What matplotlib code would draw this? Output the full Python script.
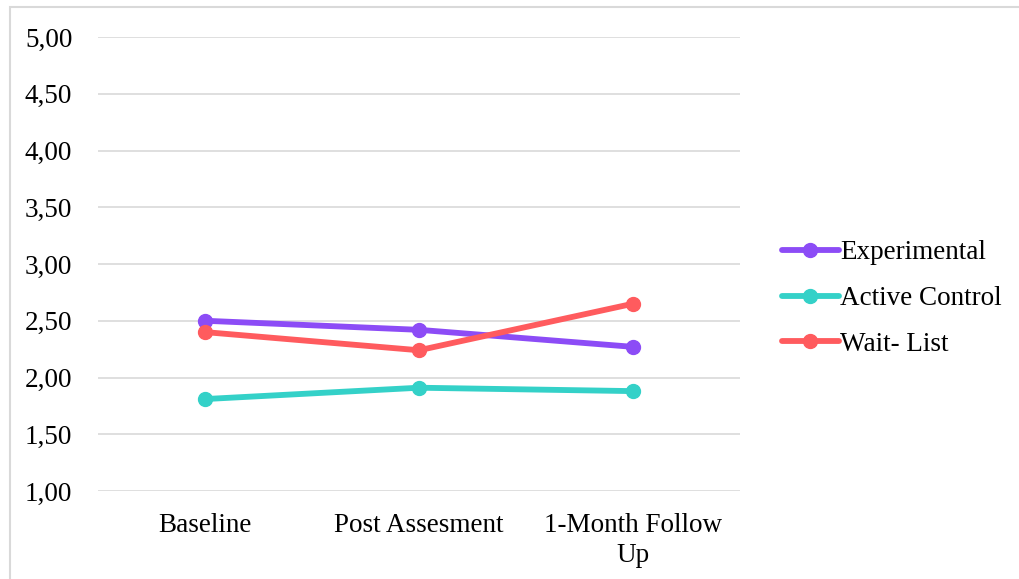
import matplotlib.pyplot as plt
from matplotlib.patches import Rectangle

categories = ["Baseline", "Post Assesment", "1-Month Follow\nUp"]
experimental = [2.50, 2.42, 2.27]
active_control = [1.81, 1.91, 1.88]
wait_list = [2.40, 2.24, 2.65]
series_names = ["Experimental", "Active Control", "Wait- List"]
y_ticks = [1.0, 1.5, 2.0, 2.5, 3.0, 3.5, 4.0, 4.5, 5.0]
y_tick_labels = ["1,00", "1,50", "2,00", "2,50", "3,00", "3,50", "4,00", "4,50", "5,00"]

colors = ["#8C4CF6", "#34D1C8", "#FF5B5E"]

plt.rcParams["font.family"] = ["Liberation Serif", "DejaVu Serif"]
fs = 19.5

fig = plt.figure(figsize=(10.2, 5.79), dpi=100)
ax = fig.add_axes([98 / 1020, 1 - 491 / 579, (740 - 98) / 1020, (491 - 37) / 579])

x = list(range(len(categories)))
for vals, name, c in zip([experimental, active_control, wait_list], series_names, colors):
    ax.plot(x, vals, color=c, lw=4.2, marker="o", markersize=10,
            solid_capstyle="round", label=name, zorder=3)

ax.set_xlim(-0.5, len(categories) - 0.5)
ax.set_ylim(1.0, 5.0)
ax.set_yticks(y_ticks)
ax.set_yticklabels(y_tick_labels, fontsize=fs)
ax.set_xticks(x)
ax.set_xticklabels(categories, fontsize=fs, linespacing=1.3)
ax.tick_params(axis="both", length=0)
ax.tick_params(axis="y", pad=18.5)
ax.tick_params(axis="x", pad=15.5)
ax.grid(axis="y", color="#D9D9D9", lw=1.2, zorder=0)
for s in ax.spines.values():
    s.set_visible(False)

fig.legend(loc="center left", bbox_to_anchor=(771 / 1020, 1 - 298.5 / 579),
           frameon=False, fontsize=fs, handlelength=2.1, handletextpad=0.05,
           labelspacing=0.76, borderaxespad=0)

fig.patches.append(Rectangle((10 / 1020, -0.1), 1.1, 1 - 7 / 579 + 0.1,
                             transform=fig.transFigure, fill=False,
                             edgecolor="#D9D9D9", lw=1.5))

fig.savefig("out.png", dpi=100)
